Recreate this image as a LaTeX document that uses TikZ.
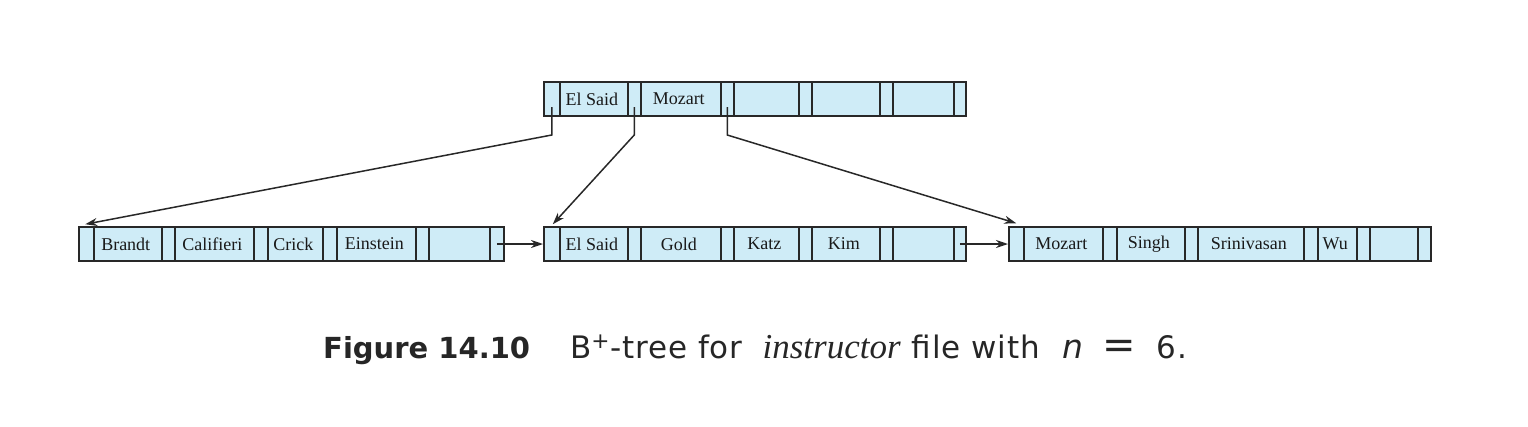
\documentclass[tikz,border=0pt]{standalone}
\usepackage{fontspec}
\setmainfont{Liberation Serif}
\newfontfamily\capfont{DejaVu Sans}
\usepackage{xcolor}
\usetikzlibrary{arrows.meta}
\definecolor{cellblue}{RGB}{207,236,247}
\definecolor{edgegray}{RGB}{40,40,40}

\begin{document}
\begin{tikzpicture}[x=1pt, y=-1pt,
		cell/.style={draw=edgegray, fill=cellblue, line width=1.5pt, minimum height=34pt, inner sep=0pt, anchor=west, font=\fontsize{18}{20}\selectfont, text=black!90},
		ptr/.style={draw=edgegray, line width=1.5pt, -{Stealth[length=12pt, width=8pt]}}]
							% Fix the page size
							\useasboundingbox (0,0) rectangle (1528,426);
							% Define the rows of the tree
							\newcommand\TopRow{99}
							\newcommand\LeafRow{244}
							% Draw one tree node from its cells (left/width/key)
							\newcommand\TreeNode[3]{%
								\foreach \x/\w/\k [count=\i] in {#3} {
									\node[cell, minimum width=\w] (#1-\i) at (\x,#2) {\k\kern4pt};
								}%
							}
							% Caption font for the plain words
							\newcommand\CapWords{\capfont\fontsize{31}{32}\selectfont\addfontfeature{LetterSpace=3}}
						
							% Draw the root
							\TreeNode{root}{\TopRow}{543/16/{}, 559/68/El Said, 627/13/{}, 640/80/Mozart, 720/13/{}, 733/65/{}, 798/13/{}, 811/68/{}, 879/13/{}, 892/61/{}, 953/12/{}}
							% Draw the leaves
							\TreeNode{leafa}{\LeafRow}{78/15/{}, 93/68/Brandt, 161/13/{}, 174/79/Califieri, 253/14/{}, 267/55/Crick, 322/14/{}, 336/79/Einstein, 415/13/{}, 428/61/{}, 489/14/{}}
							\TreeNode{leafb}{\LeafRow}{543/16/{}, 559/68/El Said, 627/13/{}, 640/80/Gold, 720/13/{}, 733/65/Katz, 798/13/{}, 811/68/Kim, 879/13/{}, 892/61/{}, 953/12/{}}
							\TreeNode{leafc}{\LeafRow}{1008/15/{}, 1023/79/Mozart, 1102/14/{}, 1116/68/Singh, 1184/13/{}, 1197/106/Srinivasan, 1303/14/{}, 1317/39/Wu, 1356/13/{}, 1369/48/{}, 1417/13/{}}
						
							% Connect the root pointers to the leaves
							\draw[ptr] ([yshift=-8pt]root-1.center) -- ++(0,28) -- ([shift={(-1,-2)}]leafa-1.north);
							\draw[ptr] ([yshift=-8pt]root-3.center) -- ++(0,28) -- ([shift={(1,-2)}]leafb-1.north);
							\draw[ptr] ([yshift=-8pt]root-5.center) -- ++(0,28) -- ([shift={(0,-3)}]leafc-1.north);
							% Chain the leaves
							\draw[ptr] (leafa-11.center) -- (leafb-1.west);
							\draw[ptr] (leafb-11.center) -- (leafc-1.west);
						
							% Caption
							\node[anchor=base west, inner sep=0pt, text=black!85, font=\capfont\fontsize{29}{32}\selectfont] (caption) at (323,358)
								{\textbf{Figure 14.10}\hspace{40pt}{\CapWords B\textsuperscript{+}-tree for}\hspace{20pt}{\rmfamily\itshape\fontsize{35}{36}\selectfont instructor}\hspace{11pt}{\CapWords file with}\hspace{22pt}{\fontsize{33}{32}\selectfont\itshape n}\hspace{19pt}{\fontsize{40}{36}\selectfont=}\hspace{21pt}{\CapWords 6.}};
						\end{tikzpicture}
\end{document}
